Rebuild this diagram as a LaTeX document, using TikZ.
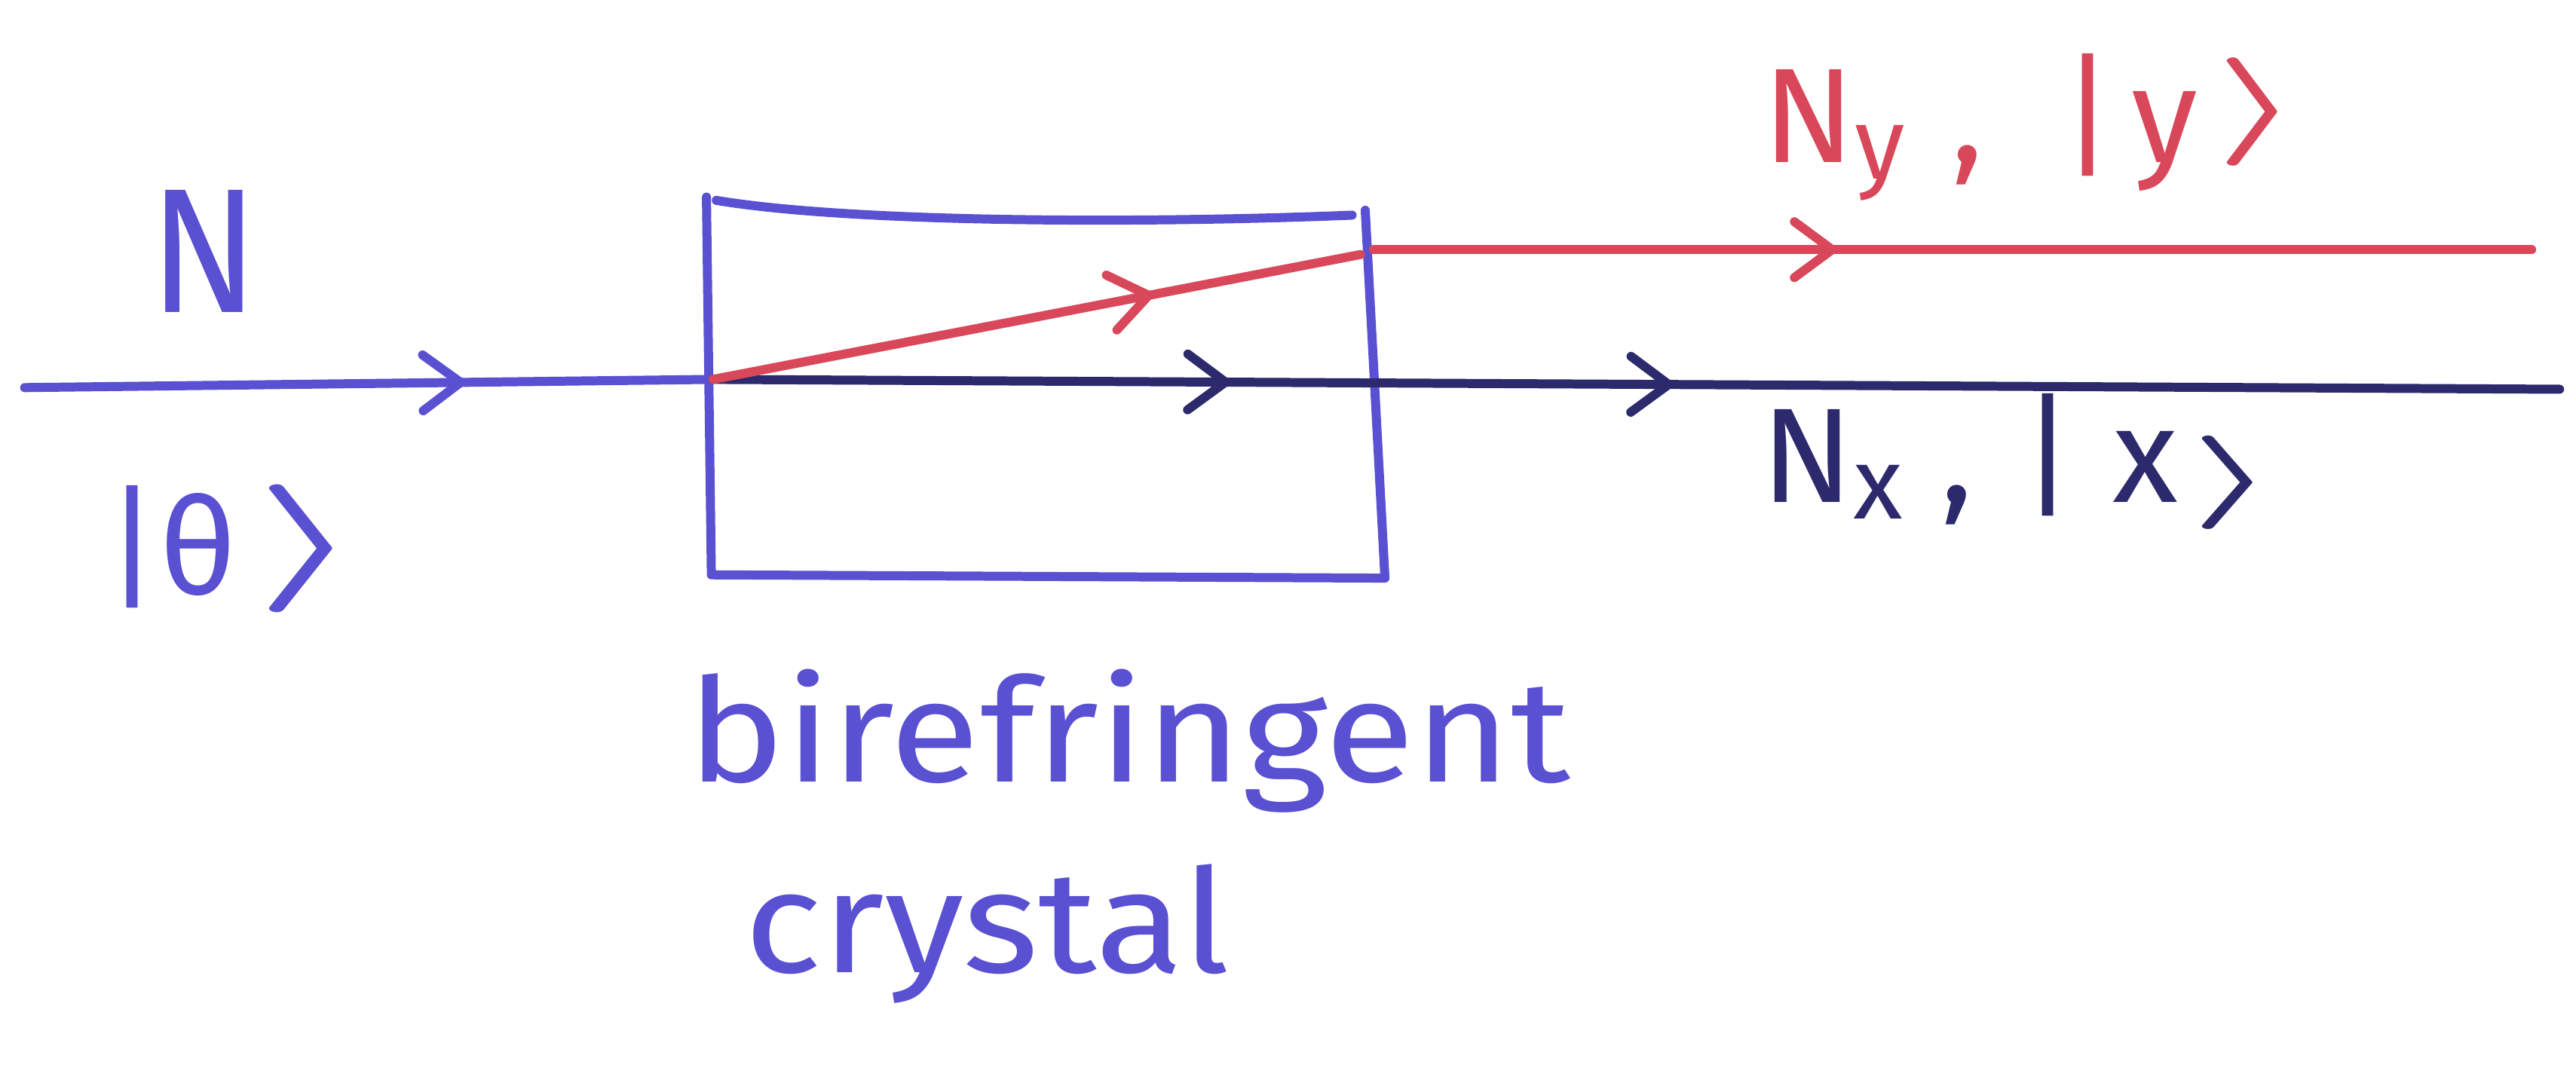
\documentclass[tikz,border=0pt]{standalone}
\usepackage{fontspec}
\setmainfont{Fira Sans}
\usetikzlibrary{arrows.meta,decorations.markings}
\definecolor{penblue}{HTML}{5A50D2}
\definecolor{pennavy}{HTML}{2C2A6C}
\definecolor{penred}{HTML}{D9485A}
% subscript and tall closing angle in the pen-written labels
\newcommand{\lowsub}[1]{\raisebox{-10pt}{\fontsize{62}{62}\selectfont #1}}
\newcommand{\tallangle}[3]{\raisebox{#3}{\scalebox{#1}[#2]{\fontsize{10}{10}\selectfont\boldmath$\rangle$}}}
\tikzset{penbarb/.tip={Straight Barb[length=23pt,width=34pt,line width=5.5pt,round]}}
\begin{document}
\begin{tikzpicture}[x=1pt,y=-1pt,
  ray/.style={line width=5.5pt,line cap=round,line join=round},
  rim/.style={line width=5.5pt,line cap=round,line join=round,penblue},
  midtip/.style={postaction={decorate},decoration={markings,
      mark=at position #1 with {\arrow{penbarb}}}},
  twotips/.style 2 args={postaction={decorate},decoration={markings,
      mark=at position #1 with {\arrow{penbarb}},
      mark=at position #2 with {\arrow{penbarb}}}},
  lbl/.style={inner sep=0pt,font=\fontsize{82}{90}\selectfont}]

\useasboundingbox[fill=white] (0,0) rectangle (1568,659);

% crystal outline
\coordinate (tl) at (430,120);
\coordinate (bl) at (433,350);
\coordinate (br) at (843,352);
\coordinate (tr) at (831,128);
\draw[rim] (tl) -- (bl) -- (br) -- (tr);
\draw[rim] (436,122) .. controls (520,136) and (700,136) .. (823,131);

% beam points
\coordinate (src)   at (15,236);
\coordinate (entry) at (434,231);
\coordinate (yout)  at (828,155);
\coordinate (yexit) at (836,152);
\coordinate (yend)  at (1541,152);
\coordinate (xend)  at (1558,237);

% incoming beam, then the two polarised beams
\draw[ray,penblue,midtip=0.64] (src) -- (entry);
\draw[ray,pennavy,twotips={0.28}{0.52}] (entry) -- (xend);
\draw[ray,penred,midtip=0.68] (entry) -- (yout);
\draw[ray,penred,midtip=0.40] (yexit) -- (yend);

% labels
\node[lbl,penblue,anchor=base west,font=\fontsize{108}{110}\selectfont,xscale=0.9] (nlab) at (91,190) {N};
\node[lbl,penblue,anchor=base west] (theta) at (64,362) {|θ\hspace{10pt}\tallangle{15}{7.8}{8.5pt}};
\node[lbl,penred,anchor=base west] (ylab) at (1073,99) {N\lowsub{y}\hspace{28pt},\hspace{47pt}|\hspace{10pt}y\hspace{10pt}\tallangle{12}{6.6}{14.5pt}};
\node[lbl,pennavy,anchor=base west] (xlab) at (1072,306) {N\lowsub{x}\hspace{23pt},\hspace{29pt}|\hspace{23pt}x\hspace{7pt}\tallangle{12}{5.7}{-2pt}};
\node[lbl,penblue,anchor=base west,font=\fontsize{88}{90}\selectfont,xscale=1.14] (bire) at (418,476) {birefringent};
\node[lbl,penblue,anchor=base west,font=\fontsize{88}{90}\selectfont,xscale=1.12] (crys) at (453,592) {crystal};
\end{tikzpicture}
\end{document}
